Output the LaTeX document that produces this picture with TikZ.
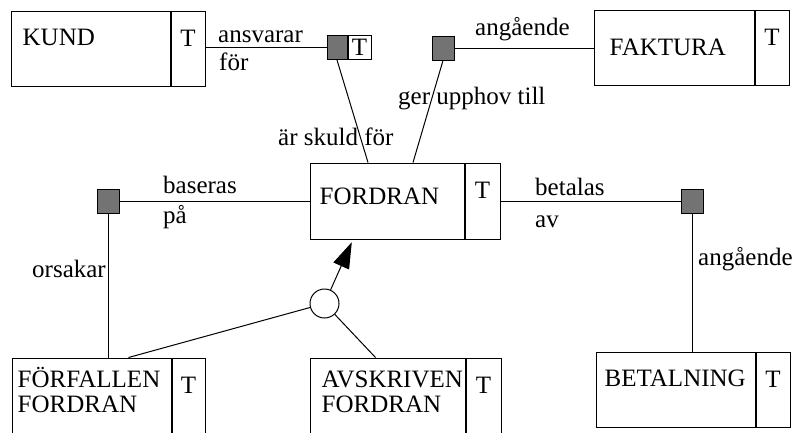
\documentclass[tikz,border=0pt]{standalone}
\usepackage{fontspec}
\setmainfont{Liberation Serif}
\usetikzlibrary{arrows.meta,positioning}
\tikzset{
  entity/.style={draw,line width=1pt,minimum width=158pt,minimum height=75pt,inner sep=0pt},
  tcolumn/.style={draw,line width=1pt,minimum width=34pt,minimum height=75pt,inner sep=0pt,
    text height=16.5pt,text depth=21.5pt},
  entname/.style={anchor=base west,inner sep=0pt,align=left},
  relbox/.style={draw,line width=1pt,fill=black!55,minimum width=22pt,minimum height=24pt,inner sep=0pt},
  tsmall/.style={draw,line width=1pt,minimum width=23pt,minimum height=24pt,inner sep=0pt},
  isacircle/.style={draw,circle,line width=1pt,minimum size=29pt,inner sep=0pt,fill=white},
  relline/.style={line width=1pt},
  isaarrow/.style={line width=1pt,-{Triangle[length=26pt,width=17pt]},shorten >=3pt},
  rellabel/.style={anchor=base west,inner sep=0pt},
}

\begin{document}
\begin{tikzpicture}[x=1pt,y=-1pt,font=\fontsize{25}{25}\selectfont]
  \useasboundingbox[fill=white] (0,0) rectangle (797,432);

  % entities
  \node[entity,minimum width=159pt] (kund) at (90.5,48.5) {};
  \node[tcolumn,right=0pt of kund] (kundT) {T};
  \node[entname] (kundN) at ([xshift=12pt,yshift=-35pt]kund.north west) {KUND};

  \node[entity,minimum width=160pt] (faktura) at (674,48) {};
  \node[tcolumn,right=0pt of faktura] (fakturaT) {T};
  \node[entname] (fakturaN) at ([xshift=16pt,yshift=-45pt]faktura.north west) {FAKTURA};

  \node[entity,minimum width=154pt,minimum height=76pt] (fordran) at (387,201) {};
  \node[tcolumn,minimum width=35pt,minimum height=76pt,right=0pt of fordran] (fordranT) {T};
  \node[entname] (fordranN) at ([xshift=10pt,yshift=-42pt]fordran.north west) {FORDRAN};

  \node[entity,minimum width=159pt] (betalning) at (675.5,389.5) {};
  \node[tcolumn,right=0pt of betalning] (betalningT) {T};
  \node[entname] (betalningN) at ([xshift=9pt,yshift=-35pt]betalning.north west) {BETALNING};

  \node[entity,minimum width=159pt] (forfallen) at (91.5,395.5) {};
  \node[tcolumn,minimum width=33pt,right=0pt of forfallen] (forfallenT) {T};
  \node[entname] (forfallenN) at ([xshift=6pt,yshift=-55pt]forfallen.north west) {FÖRFALLEN\\FORDRAN};

  \node[entity,minimum width=155pt] (avskriven) at (387.5,395.5) {};
  \node[tcolumn,minimum width=35pt,right=0pt of avskriven] (avskrivenT) {T};
  \node[entname] (avskrivenN) at ([xshift=12pt,yshift=-55pt]avskriven.north west) {AVSKRIVEN\\FORDRAN};

  % relationships
  \node[relbox,minimum width=20pt] (ansvar) at (337,47.5) {};
  \node[tsmall,right=0pt of ansvar] (ansvarT) {T};
  \node[relbox] (avser) at (443,48) {};
  \node[relbox] (baseras) at (108,201.5) {};
  \node[relbox] (betalas) at (692.5,201) {};
  \node[isacircle] (isa) at (324.5,303.5) {};

  \draw[relline] (ansvar) -- (ansvar -| kundT.east);
  \draw[relline] (avser) -- (avser -| faktura.west);
  \draw[relline] (baseras) -- (baseras -| fordran.west);
  \draw[relline] (betalas) -- (betalas -| fordranT.east);
  \draw[relline] (ansvar.south) -- ([xshift=-19pt]fordran.north);
  \draw[relline] (avser.south) -- ([xshift=26pt]fordran.north);
  \draw[relline] (baseras) -- (baseras |- forfallen.north);
  \draw[relline] (betalas) -- (betalas |- betalning.north);

  % subtypes
  \draw[isaarrow] (isa) -- ([xshift=-34pt]fordran.south);
  \draw[relline] (isa) -- ([xshift=37pt]forfallen.north);
  \draw[relline] (isa) -- ([xshift=-12pt]avskriven.north);

  % role texts
  \node[rellabel] (lAnsvarar) at (218,42) {ansvarar};
  \node[rellabel] (lFor) at (219,70) {för};
  \node[rellabel] (lAngaende) at (475,35) {angående};
  \node[rellabel] (lGer) at (398,104) {ger upphov till};
  \node[rellabel] (lSkuld) at (278,145) {är skuld för};
  \node[rellabel] (lBaseras) at (163,193) {baseras};
  \node[rellabel] (lPa) at (163,223) {på};
  \node[rellabel] (lOrsakar) at (32,277) {orsakar};
  \node[rellabel] (lBetalas) at (535,195) {betalas};
  \node[rellabel] (lAv) at (535,227) {av};
  \node[rellabel] (lAngaende2) at (698,265) {angående};
\end{tikzpicture}
\end{document}
